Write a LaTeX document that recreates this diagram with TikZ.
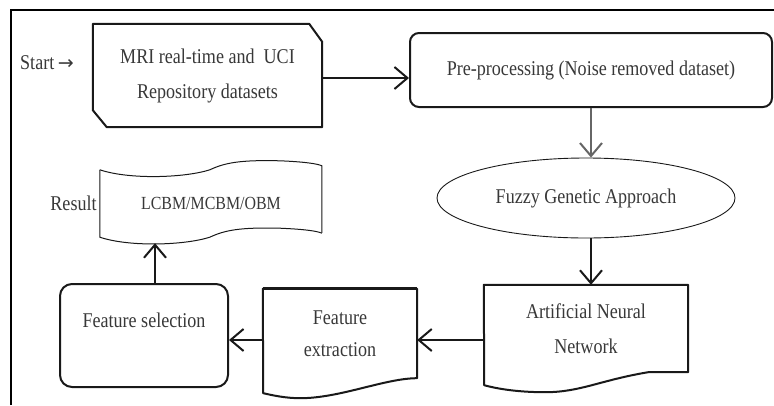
\documentclass[tikz,border=0pt]{standalone}
\usepackage{fontspec}
\setmainfont[FakeStretch=0.86]{Liberation Serif}
\newfontfamily\arrowfont{DejaVu Sans}
\usetikzlibrary{shapes.geometric,arrows.meta,calc}

\colorlet{box edge}{black!90}
\colorlet{box text}{black!78}
\def\tapewave{.. controls +(30,10) and +(-25,8) .. ++(110,0) .. controls +(15,-7) and +(-40,-1) .. ++(70,-9) .. controls +(25,1) and +(-4,-2) .. ++(42,5)}
\tikzset{
  every node/.style={text=box text, font=\fontsize{21}{35}\selectfont},
  frame line/.style={draw=black, line width=1.2pt}
  }
\tikzstyle{hidden box} = [rectangle, inner sep=0pt, align=center]
\tikzstyle{round box} = [rectangle, draw=box edge, line width=2pt, rounded corners=9pt, align=center]
\tikzstyle{oval node} = [ellipse, draw=box edge, line width=0.9pt, inner sep=0pt]
\tikzstyle{outline} = [draw=box edge, line width=2pt, line join=round]
\tikzstyle{thin outline} = [draw=box edge, line width=1pt]
\tikzstyle{edge} = [draw=box edge, line width=2.5pt, -{Straight Barb[length=13pt,width=22pt,line width=2pt]}]

\begin{document}
\begin{tikzpicture}[x=1pt, y=-1pt]
  \useasboundingbox (0,0) rectangle (774,405);

  % Frame round the chart
  \path[frame line] (11,405) -- (11,10) -- (774,10);

  % The steps
  \node[hidden box, minimum width=229pt, minimum height=103pt] (mri) at (207.5,75.5) {MRI real-time and~~UCI\\Repository datasets};
  \node[round box, minimum width=362pt, minimum height=74pt] (pre) at (591,70) {Pre-processing (Noise removed dataset)};
  \node[oval node, minimum width=298pt, minimum height=80pt] (fga) at (586,198) {Fuzzy Genetic Approach};
  \node[hidden box, minimum width=204pt, minimum height=87pt] (ann) at (586,328.5) {Artificial Neural\\Network};
  \node[hidden box, minimum width=154pt, minimum height=89pt, font=\fontsize{21}{32}\selectfont] (fex) at (340,333.5) {Feature\\extraction};
  \node[round box, rounded corners=12pt, minimum width=168pt, minimum height=103pt, text height=14pt, text depth=31pt] (fsel) at (144,335.5) {Feature selection};
  \node[hidden box, minimum width=222pt, minimum height=67pt, font=\fontsize{18.5}{30}\selectfont] (res) at (211,203.5) {LCBM/MCBM/OBM};

  % Side labels
  \node[anchor=west, inner sep=0pt] (start) at (20,63) {Start\,{\arrowfont\fontsize{19}{19}\selectfont →}};
  \node[anchor=east, inner sep=3pt] (result) at (res.west) {Result};

  % Outlines of the drawn shapes
  \path[outline] (mri.north west) -- ([xshift=-13pt]mri.north east) -- ([yshift=-18pt]mri.north east) -- (mri.south east) -- ([xshift=14pt]mri.south west) -- ([yshift=17pt]mri.south west) -- cycle;
  \path[outline] (ann.south east) -- ++(-40,0) .. controls +(-48,8) and +(35,0) .. ++(-103,20) .. controls +(-30,0) and +(11,3) .. ++(-61,-7) -- (ann.north west) -- (ann.north east) -- cycle;
  \path[outline] (fex.south east) .. controls +(-32,0) and +(40,0) .. ++(-117,20) .. controls +(-15,0) and +(9,2) .. ++(-37,-5) -- (fex.north west) -- (fex.north east) -- cycle;
  \path[outline, line width=3pt] (fex.north west) -- (fex.north east);
  \path[thin outline] (res.north west) \tapewave -- ++(0,67);
  \path[thin outline] (res.north west) -- (res.south west) \tapewave;

  % The flow between the steps
  \path[edge, line width=2pt] ([yshift=-2.5pt]mri.east) -- ([yshift=-2.5pt]mri.east -| pre.west);
  \path[edge, draw=black!60, line width=1.5pt] (pre.south) -- (pre.south |- fga.north);
  \path[edge, line width=2pt] (fga.south -| pre.south) -- (pre.south |- ann.north);
  \path[edge] ([yshift=-11.5pt]ann.west) -- ([yshift=-11.5pt]ann.west -| fex.east);
  \path[edge] ([yshift=-6.5pt]fex.west) -- ([yshift=-6.5pt]fex.west -| fsel.east);
  \path[edge, line width=2pt] ([xshift=11pt]fsel.north) -- ([xshift=-56pt,yshift=-6pt]res.south);
\end{tikzpicture}
\end{document}
